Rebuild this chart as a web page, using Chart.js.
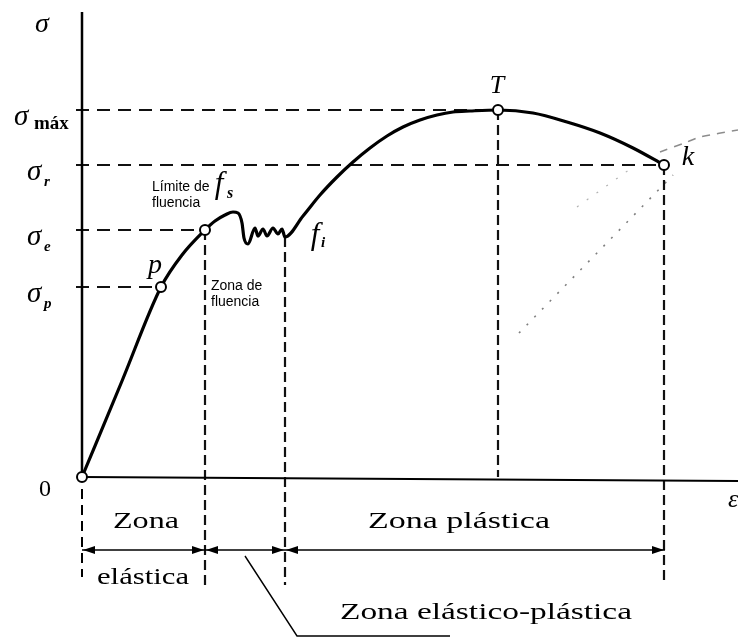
<!DOCTYPE html>
<html>
<head>
<meta charset="utf-8">
<script src="https://cdn.jsdelivr.net/npm/chart.js@4"></script>
<style>
  html, body { margin: 0; padding: 0; background: #fff; }
  #wrap { width: 738px; height: 638px; }
</style>
</head>
<body>
<div id="wrap"><canvas id="chart"></canvas></div>
<script>
// strain (ε) and stress (σ) in arbitrary drawing units, origin at 0
const curveEps = [0, 40, 79, 100, 123, 133, 143, 151, 156, 160, 162, 166, 173, 176, 181, 185, 191, 196, 200, 203,
  221, 238, 255, 271, 288, 305, 321, 338, 355, 371, 388, 416, 451, 485, 518, 551, 582];
const curveSig = [0, 96, 190, 222, 247, 256, 262, 265, 264, 254, 239, 233, 249, 241, 248, 241, 249, 243, 248, 240,
  261, 282, 300, 315, 329, 341, 350, 357, 362, 365, 366, 367, 364, 355, 344, 329, 312];

// marked points: origin, p, σe, T, k
const markEps = [0, 79, 123, 416, 582];
const markSig = [0, 190, 247, 367, 312];

// stress levels on the σ axis and where their dashed guides stop
const levelNames = ['máx', 'r', 'e', 'p'];
const levelSig = [367, 312, 247, 190];
const levelEps = [416, 582, 123, 79];

// vertical guides: ε position, top and bottom
const guideEps = [123, 203, 416, 582];
const guideTop = [247, 240, 367, 312];
const guideBottom = [-111, -108, 0, -108];

// zone boundaries along ε (elástica | elástico-plástica | plástica)
const zoneEps = [0, 123, 203, 583];
const zoneSig = -73;

// faint unloading traces
const trace1Eps = [437, 591];
const trace1Sig = [144, 302];
const trace2Eps = [495, 551];
const trace2Sig = [270, 310];
const trace3Eps = [578, 605, 618, 656];
const trace3Sig = [325, 335, 340, 347];

const pts = (xs, ys) => xs.map((x, i) => ({ x: x, y: ys[i] }));

const datasets = [];
// markers on top
datasets.push({
  data: pts(markEps, markSig), showLine: false, order: 0,
  pointRadius: 5, pointBackgroundColor: '#fff', pointBorderColor: '#000', pointBorderWidth: 2
});
// the stress-strain curve
datasets.push({
  data: pts(curveEps, curveSig), showLine: true, order: 1, pointRadius: 0,
  borderColor: '#000', borderWidth: 3.2, cubicInterpolationMode: 'monotone'
});
// axes
datasets.push({ data: [{ x: 0, y: 0 }, { x: 656, y: -4 }], showLine: true, order: 2, pointRadius: 0, borderColor: '#000', borderWidth: 2 });
datasets.push({ data: [{ x: 0, y: 0 }, { x: 0, y: 465 }], showLine: true, order: 2, pointRadius: 0, borderColor: '#000', borderWidth: 2.5 });
datasets.push({ data: [{ x: 0, y: -12 }, { x: 0, y: -100 }], showLine: true, order: 2, pointRadius: 0, borderColor: '#000', borderWidth: 2, borderDash: [10, 6] });
// horizontal level guides
levelSig.forEach((s, i) => {
  datasets.push({
    data: [{ x: -6, y: s }, { x: levelEps[i], y: s }], showLine: true, order: 2, pointRadius: 0,
    borderColor: '#111', borderWidth: 2, borderDash: [13, 8]
  });
});
// vertical guides
guideEps.forEach((e, i) => {
  datasets.push({
    data: [{ x: e, y: guideTop[i] }, { x: e, y: guideBottom[i] }], showLine: true, order: 2, pointRadius: 0,
    borderColor: '#111', borderWidth: 2.2, borderDash: [10, 5]
  });
});
// faint traces
datasets.push({ data: pts(trace1Eps, trace1Sig), showLine: true, order: 3, pointRadius: 0, borderColor: 'rgba(0,0,0,0.5)', borderWidth: 1.6, borderDash: [2, 9] });
datasets.push({ data: pts(trace2Eps, trace2Sig), showLine: true, order: 3, pointRadius: 0, borderColor: 'rgba(0,0,0,0.3)', borderWidth: 1.2, borderDash: [2, 10] });
datasets.push({ data: pts(trace3Eps, trace3Sig), showLine: true, order: 3, pointRadius: 0, borderColor: 'rgba(0,0,0,0.45)', borderWidth: 1.5, borderDash: [8, 7], tension: 0.3 });

const labelsPlugin = {
  id: 'labels',
  afterDatasetsDraw(chart) {
    const ctx = chart.ctx;
    const xs = chart.scales.x, ys = chart.scales.y;
    const X = v => xs.getPixelForValue(v), Y = v => ys.getPixelForValue(v);
    const text = (str, e, s, font, align, base) => {
      ctx.font = font;
      ctx.fillStyle = '#000';
      ctx.textAlign = align || 'center';
      ctx.textBaseline = base || 'middle';
      ctx.fillText(str, X(e), Y(s));
    };
    // caption stretched to the width it has in the scan
    const wide = (str, e, s, font, w) => {
      ctx.font = font;
      ctx.fillStyle = '#000';
      ctx.textAlign = 'center';
      ctx.textBaseline = 'middle';
      const k = w / ctx.measureText(str).width;
      ctx.save();
      ctx.translate(X(e), Y(s));
      ctx.scale(k, 1);
      ctx.fillText(str, 0, 0);
      ctx.restore();
    };
    ctx.save();
    const serif = '"Liberation Serif", serif';
    const sans = '"Liberation Sans", Arial, sans-serif';

    // σ axis labels
    text('σ', -40, 452, 'italic 28px ' + serif);
    levelSig.forEach((s, i) => {
      const left = i === 0 ? -68 : -55;
      text('σ', left, s - 15, 'italic 29px ' + serif, 'left', 'alphabetic');
      if (i === 0) text(levelNames[i], -48, s - 19, 'bold 19px ' + serif, 'left', 'alphabetic');
      else text(levelNames[i], -38, s - 21, 'italic bold 15px ' + serif, 'left', 'alphabetic');
    });
    text('0', -37, -13, '24px ' + serif);
    text('ε', 646, -23, 'italic 26px ' + serif, 'left');

    // point labels
    text('p', 73, 211, 'italic 28px ' + serif);
    text('T', 415, 391, 'italic 26px ' + serif);
    text('k', 606, 319, 'italic 28px ' + serif);
    text('f', 137, 292, 'italic 31px ' + serif);
    text('s', 148, 283, 'italic bold 16px ' + serif);
    text('f', 233, 241, 'italic 31px ' + serif);
    text('i', 241, 234, 'italic bold 15px ' + serif);

    text('Límite de', 70, 290, '14px ' + sans, 'left');
    text('fluencia', 70, 274, '14px ' + sans, 'left');
    text('Zona de', 129, 191, '14px ' + sans, 'left');
    text('fluencia', 129, 175, '14px ' + sans, 'left');

    // zone captions
    wide('Zona', 64, -45, '24px ' + serif, 66);
    wide('elástica', 61, -101, '24px ' + serif, 92);
    wide('Zona plástica', 377, -45, '24px ' + serif, 182);
    wide('Zona elástico-plástica', 404, -136, '24px ' + serif, 292);

    // zone arrows
    ctx.strokeStyle = '#000';
    ctx.fillStyle = '#000';
    ctx.lineWidth = 1.6;
    const y = Y(zoneSig);
    for (let i = 0; i < zoneEps.length - 1; i++) {
      const a = X(zoneEps[i]), b = X(zoneEps[i + 1]);
      ctx.beginPath(); ctx.moveTo(a, y); ctx.lineTo(b, y); ctx.stroke();
      [[a, 1], [b, -1]].forEach(([p, d]) => {
        ctx.beginPath();
        ctx.moveTo(p + d * 1, y);
        ctx.lineTo(p + d * 13, y - 4);
        ctx.lineTo(p + d * 13, y + 4);
        ctx.closePath();
        ctx.fill();
      });
    }
    // leader line to the elástico-plástica caption
    ctx.lineWidth = 1.4;
    ctx.beginPath();
    ctx.moveTo(X(163), Y(-79));
    ctx.lineTo(X(215), Y(-159));
    ctx.lineTo(X(368), Y(-159));
    ctx.stroke();
    ctx.restore();
  }
};

new Chart(document.getElementById('chart').getContext('2d'), {
  type: 'scatter',
  data: { datasets: datasets },
  options: {
    animation: false,
    responsive: true,
    maintainAspectRatio: false,
    layout: { padding: 0, autoPadding: false },
    plugins: { legend: { display: false }, tooltip: { enabled: false } },
    scales: {
      x: { type: 'linear', min: -82, max: 656, display: false },
      y: { type: 'linear', min: -161, max: 477, display: false }
    }
  },
  plugins: [labelsPlugin]
});
</script>
</body>
</html>
